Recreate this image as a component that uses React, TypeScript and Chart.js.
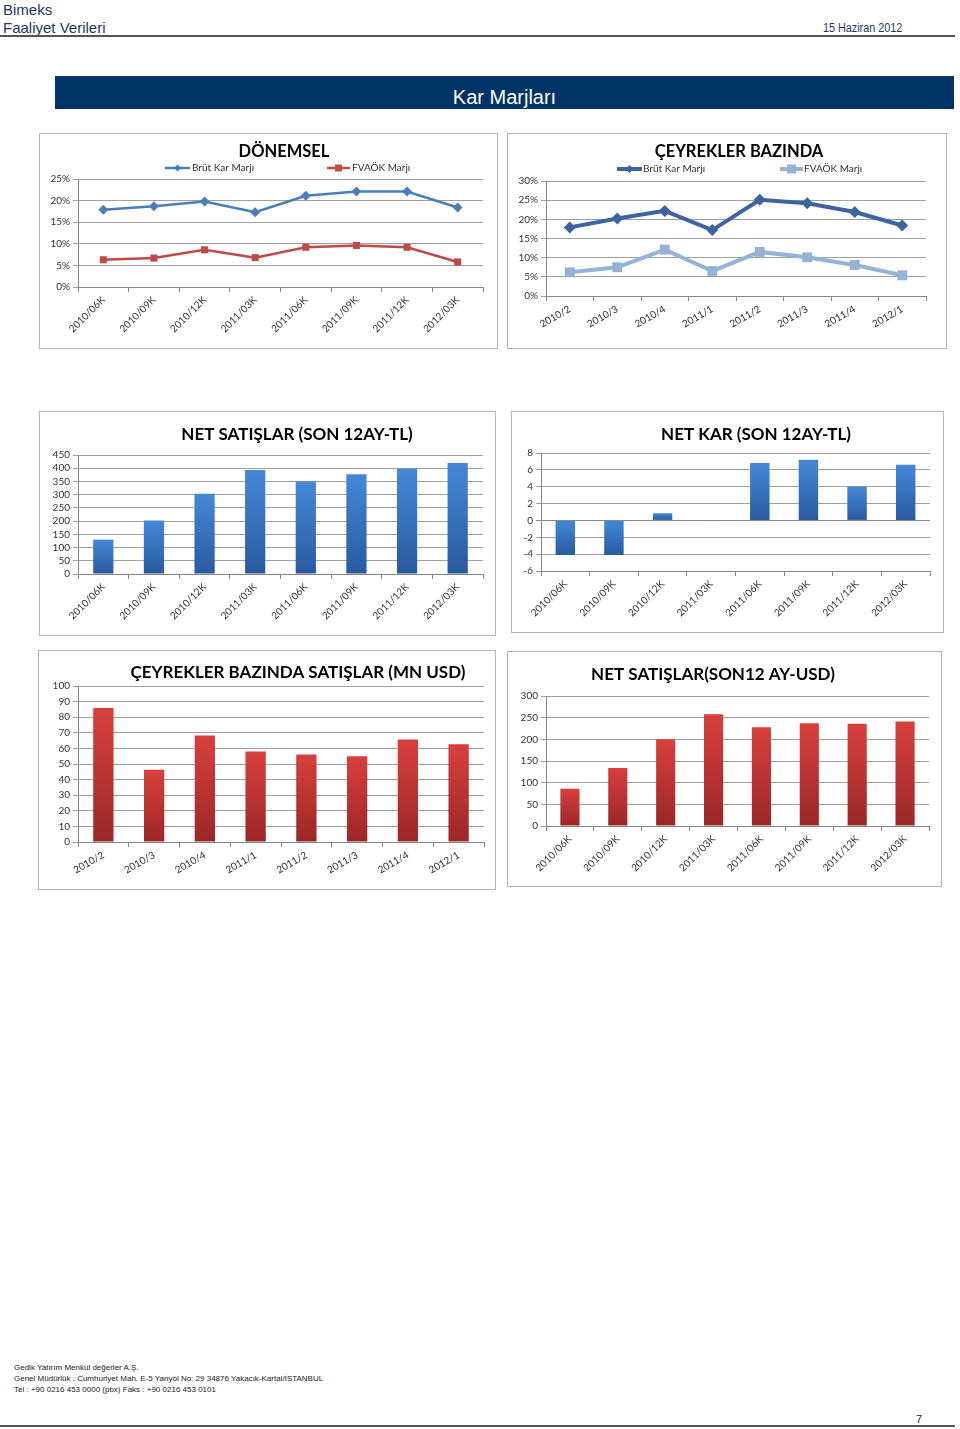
import React, { useEffect, useRef } from "react";
import { Chart, registerables } from "chart.js";

Chart.register(...registerables);

// ---------- DATA ----------
const periodLabels = ["2010/06K", "2010/09K", "2010/12K", "2011/03K", "2011/06K", "2011/09K", "2011/12K", "2012/03K"];
const quarterLabels = ["2010/2", "2010/3", "2010/4", "2011/1", "2011/2", "2011/3", "2011/4", "2012/1"];

const donemselBrut = [17.9, 18.7, 19.8, 17.3, 21.1, 22.1, 22.1, 18.4];
const donemselFvaok = [6.3, 6.7, 8.6, 6.8, 9.2, 9.6, 9.2, 5.8];

const ceyrekBrut = [17.9, 20.2, 22.2, 17.2, 25.1, 24.2, 21.9, 18.4];
const ceyrekFvaok = [6.2, 7.5, 12.1, 6.5, 11.5, 10.1, 8.1, 5.4];

const netSatislarTL = [130, 202, 303, 393, 350, 377, 398, 420];
const netKarTL = [-4.1, -4.1, 0.85, -0.05, 6.8, 7.2, 4.0, 6.6];
const ceyrekSatislarUSD = [85.9, 46.3, 68.3, 58.0, 56.1, 55.0, 65.7, 62.7];
const netSatislarUSD = [86, 134, 200, 258, 228, 237, 236, 241];

const seriesNames = ["Brüt Kar Marjı", "FVAÖK Marjı"];

// ---------- STYLE ----------
const FONT = 'Lato, "Open Sans", sans-serif';
const TICK_COLOR = "#333333";
const GRID_COLOR = "#a0a0a0";
const AXIS_COLOR = "#868686";

const decorPlugin = {
  id: "decor",
  afterDraw(chart: any, _args: any, opts: any) {
    const ctx = chart.ctx as CanvasRenderingContext2D;
    ctx.save();
    if (opts.title) {
      ctx.font = `bold ${opts.titleSize}px ${FONT}`;
      ctx.fillStyle = "#000";
      ctx.textAlign = "center";
      ctx.textBaseline = "middle";
      ctx.fillText(opts.title, opts.titleX, opts.titleY);
    }
    (opts.legend || []).forEach((item: any, i: number) => {
      const ds = chart.data.datasets[i];
      const y = opts.legendY;
      ctx.strokeStyle = ds.borderColor;
      ctx.lineWidth = ds.borderWidth;
      ctx.beginPath();
      ctx.moveTo(item.x0, y);
      ctx.lineTo(item.x1, y);
      ctx.stroke();
      const cx = (item.x0 + item.x1) / 2;
      const s = item.m;
      ctx.fillStyle = ds.pointBackgroundColor;
      ctx.beginPath();
      if (ds.pointStyle === "rectRot") {
        ctx.moveTo(cx, y - s);
        ctx.lineTo(cx + s, y);
        ctx.lineTo(cx, y + s);
        ctx.lineTo(cx - s, y);
        ctx.closePath();
      } else {
        ctx.rect(cx - s, y - s, 2 * s, 2 * s);
      }
      ctx.fill();
      ctx.font = `10px ${FONT}`;
      ctx.fillStyle = "#333";
      ctx.textAlign = "left";
      ctx.textBaseline = "middle";
      ctx.fillText(ds.label, item.tx, y);
    });
    ctx.restore();
  },
};

type Box = {
  left: number;
  top: number;
  w: number;
  h: number;
  plotTop: number;
  plotBottom: number;
  axisX: number;
  plotRight: number;
};

function gradientFill(top: string, bottom: string) {
  return (c: any) => {
    const chart = c.chart;
    const y = chart.scales?.y;
    if (!y || c.raw === undefined) return top;
    const p1 = y.getPixelForValue(c.raw);
    const p0 = y.getPixelForValue(0);
    const a = Math.min(p0, p1);
    const b = Math.max(p0, p1);
    if (!isFinite(a) || !isFinite(b) || b - a < 0.5) return top;
    const g = chart.ctx.createLinearGradient(0, a, 0, b);
    g.addColorStop(0, top);
    g.addColorStop(1, bottom);
    return g;
  };
}

function baseOptions(box: Box, rotation: number, y: any, decor: any) {
  const ox = box.left + 1;
  const oy = box.top + 1;
  const cw = box.w - 2;
  const ch = box.h - 2;
  return {
    animation: false,
    responsive: false,
    maintainAspectRatio: false,
    layout: { padding: { top: box.plotTop - oy, right: cw - (box.plotRight - ox), bottom: 0, left: 0 } },
    plugins: {
      legend: { display: false },
      title: { display: false },
      tooltip: { enabled: false },
      decor,
    },
    scales: {
      x: {
        type: "category",
        offset: true,
        grid: { offset: true, drawOnChartArea: false, drawTicks: true, tickLength: 5, color: AXIS_COLOR },
        border: { color: AXIS_COLOR },
        ticks: {
          autoSkip: false,
          minRotation: rotation,
          maxRotation: rotation,
          padding: 2,
          color: TICK_COLOR,
          font: { family: FONT, size: 10 },
        },
        afterFit: (s: any) => {
          s.height = oy + ch - box.plotBottom;
        },
      },
      y: {
        min: y.min,
        max: y.max,
        ticks: {
          stepSize: y.step,
          autoSkip: false,
          padding: 3,
          color: TICK_COLOR,
          font: { family: FONT, size: 10 },
          callback: y.fmt,
        },
        grid: {
          color: (c: any) => (c.tick && c.tick.value === 0 && y.min < 0 ? AXIS_COLOR : GRID_COLOR),
          tickLength: 5,
        },
        border: { color: AXIS_COLOR },
        afterFit: (s: any) => {
          s.width = box.axisX - ox;
        },
      },
    },
  };
}

type Spec = {
  box: Box;
  config: any;
};

function ChartBox({ spec }: { spec: Spec }) {
  const ref = useRef<HTMLCanvasElement | null>(null);
  useEffect(() => {
    if (!ref.current) return;
    const chart = new Chart(ref.current, { ...spec.config, plugins: [decorPlugin] });
    return () => chart.destroy();
  }, [spec]);
  const { box } = spec;
  return (
    <div
      style={{
        position: "absolute",
        left: box.left,
        top: box.top,
        width: box.w,
        height: box.h,
        boxSizing: "border-box",
        border: "1px solid #b4b4b4",
        background: "#fff",
      }}
    >
      <canvas ref={ref} width={box.w - 2} height={box.h - 2} style={{ display: "block", width: box.w - 2, height: box.h - 2 }} />
    </div>
  );
}

const pct = (v: any) => `${v}%`;
const num = (v: any) => `${v}`;

function buildSpecs(): Spec[] {
  const b1: Box = { left: 39, top: 133, w: 459, h: 216, plotTop: 179, plotBottom: 287, axisX: 78, plotRight: 483 };
  const b2: Box = { left: 507, top: 133, w: 440, h: 216, plotTop: 181, plotBottom: 296, axisX: 546, plotRight: 926 };
  const b3: Box = { left: 39, top: 411, w: 457, h: 225, plotTop: 455, plotBottom: 574, axisX: 78, plotRight: 483 };
  const b4: Box = { left: 511, top: 411, w: 433, h: 222, plotTop: 453, plotBottom: 571, axisX: 541, plotRight: 930 };
  const b5: Box = { left: 38, top: 650, w: 458, h: 240, plotTop: 686, plotBottom: 842, axisX: 78, plotRight: 484 };
  const b6: Box = { left: 507, top: 651, w: 435, h: 236, plotTop: 696, plotBottom: 826, axisX: 546, plotRight: 929 };

  const lineDs = (label: string, data: number[], color: string, width: number, style: string, r: number) => ({
    label,
    data,
    borderColor: color,
    backgroundColor: color,
    borderWidth: width,
    pointStyle: style,
    pointRadius: r,
    pointBackgroundColor: color,
    pointBorderColor: color,
    pointBorderWidth: 0,
    tension: 0,
  });

  const barDs = (data: number[], top: string, bottom: string) => ({
    label: "",
    data,
    backgroundColor: gradientFill(top, bottom),
    borderWidth: 0,
    barPercentage: 0.4,
    categoryPercentage: 1,
  });

  const BLUE_TOP = "#4488d8";
  const BLUE_BOT = "#295a9f";
  const RED_TOP = "#d8403d";
  const RED_BOT = "#9b2726";

  return [
    {
      box: b1,
      config: {
        type: "line",
        data: {
          labels: periodLabels,
          datasets: [
            lineDs(seriesNames[0], donemselBrut, "#4a7ebb", 2.5, "rectRot", 5),
            lineDs(seriesNames[1], donemselFvaok, "#be4b48", 2.5, "rect", 5),
          ],
        },
        options: baseOptions(b1, 45, { min: 0, max: 25, step: 5, fmt: pct }, {
          title: "DÖNEMSEL",
          titleSize: 16.5,
          titleX: 244,
          titleY: 18,
          legendY: 34,
          legend: [
            { x0: 125, x1: 150, tx: 152, m: 3.5 },
            { x0: 287, x1: 310, tx: 312, m: 3.5 },
          ],
        }),
      },
    },
    {
      box: b2,
      config: {
        type: "line",
        data: {
          labels: quarterLabels,
          datasets: [
            lineDs(seriesNames[0], ceyrekBrut, "#3d64a0", 4, "rectRot", 6),
            lineDs(seriesNames[1], ceyrekFvaok, "#95b3d7", 4, "rect", 7),
          ],
        },
        options: baseOptions(b2, 30, { min: 0, max: 30, step: 5, fmt: pct }, {
          title: "ÇEYREKLER BAZINDA",
          titleSize: 16.5,
          titleX: 231,
          titleY: 18,
          legendY: 35,
          legend: [
            { x0: 109, x1: 134, tx: 135, m: 4 },
            { x0: 272, x1: 295, tx: 296, m: 4.5 },
          ],
        }),
      },
    },
    {
      box: b3,
      config: {
        type: "bar",
        data: { labels: periodLabels, datasets: [barDs(netSatislarTL, BLUE_TOP, BLUE_BOT)] },
        options: baseOptions(b3, 45, { min: 0, max: 450, step: 50, fmt: num }, {
          title: "NET SATIŞLAR (SON 12AY-TL)",
          titleSize: 17,
          titleX: 257,
          titleY: 23,
        }),
      },
    },
    {
      box: b4,
      config: {
        type: "bar",
        data: { labels: periodLabels, datasets: [barDs(netKarTL, BLUE_TOP, BLUE_BOT)] },
        options: baseOptions(b4, 45, { min: -6, max: 8, step: 2, fmt: num }, {
          title: "NET KAR (SON 12AY-TL)",
          titleSize: 17,
          titleX: 244,
          titleY: 23,
        }),
      },
    },
    {
      box: b5,
      config: {
        type: "bar",
        data: { labels: quarterLabels, datasets: [barDs(ceyrekSatislarUSD, RED_TOP, RED_BOT)] },
        options: baseOptions(b5, 30, { min: 0, max: 100, step: 10, fmt: num }, {
          title: "ÇEYREKLER BAZINDA SATIŞLAR (MN USD)",
          titleSize: 17,
          titleX: 259,
          titleY: 22,
        }),
      },
    },
    {
      box: b6,
      config: {
        type: "bar",
        data: { labels: periodLabels, datasets: [barDs(netSatislarUSD, RED_TOP, RED_BOT)] },
        options: baseOptions(b6, 45, { min: 0, max: 300, step: 50, fmt: num }, {
          title: "NET SATIŞLAR(SON12 AY-USD)",
          titleSize: 17,
          titleX: 205,
          titleY: 23,
        }),
      },
    },
  ];
}

const SPECS = buildSpecs();

const ARIAL = '"Liberation Sans", Arial, sans-serif';

export default function App() {
  return (
    <div style={{ position: "absolute", left: 0, top: 0, width: 960, height: 1429, background: "#fff", overflow: "hidden" }}>
      <div style={{ position: "absolute", left: 3, top: 1, fontFamily: ARIAL, fontSize: 15, color: "#1f3864", lineHeight: "17px" }}>
        Bimeks
      </div>
      <div style={{ position: "absolute", left: 3, top: 19, fontFamily: ARIAL, fontSize: 15, color: "#1f3864", lineHeight: "17px" }}>
        Faaliyet Verileri
      </div>
      <div
        style={{
          position: "absolute",
          left: 823,
          top: 21,
          fontFamily: ARIAL,
          fontSize: 12,
          color: "#1f3864",
          lineHeight: "14px",
          transform: "scaleX(0.9)",
          transformOrigin: "left center",
        }}
      >
        15 Haziran 2012
      </div>
      <div style={{ position: "absolute", left: 0, top: 35, width: 955, height: 2, background: "#555" }} />

      <div
        style={{
          position: "absolute",
          left: 55,
          top: 76,
          width: 899,
          height: 33,
          background: "#003366",
          color: "#fff",
          fontFamily: ARIAL,
          fontSize: 20,
          textAlign: "center",
          lineHeight: "42px",
        }}
      >
        Kar Marjları
      </div>

      {SPECS.map((s, i) => (
        <ChartBox key={i} spec={s} />
      ))}

      <div style={{ position: "absolute", left: 14, top: 1362, fontFamily: ARIAL, fontSize: 8, color: "#222", lineHeight: "11px" }}>
        <div>Gedik Yatırım Menkul değerler A.Ş.</div>
        <div>Genel Müdürlük : Cumhuriyet Mah. E-5 Yanyol No: 29 34876 Yakacık-Kartal/İSTANBUL</div>
        <div>Tel : +90 0216 453 0000 (pbx) Faks : +90 0216 453 0101</div>
      </div>
      <div style={{ position: "absolute", left: 916, top: 1413, fontFamily: ARIAL, fontSize: 11, color: "#222", lineHeight: "13px" }}>7</div>
      <div style={{ position: "absolute", left: 0, top: 1425, width: 955, height: 2, background: "#555" }} />
    </div>
  );
}
